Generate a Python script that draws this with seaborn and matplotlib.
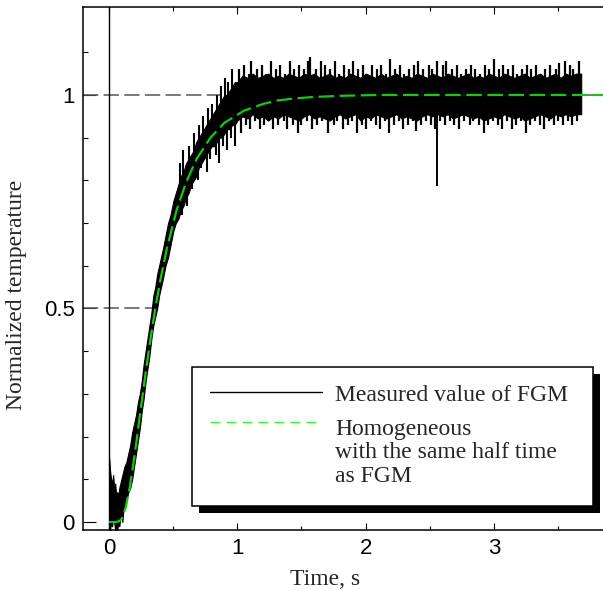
import numpy as np
import matplotlib
matplotlib.use("Agg")
import matplotlib.pyplot as plt
from matplotlib.patches import Rectangle
from matplotlib.lines import Line2D
import seaborn as sns

# ---------------- data ----------------
# homogeneous model curve
model_t = [0.0, 0.05, 0.08, 0.10, 0.13, 0.16, 0.184, 0.21, 0.24, 0.263, 0.29, 0.32,
           0.36, 0.40, 0.45, 0.526, 0.60, 0.68, 0.79, 0.90, 1.05, 1.20, 1.31, 1.45,
           1.58, 1.80, 2.10, 3.87]
model_y = [0.0, 0.0, 0.002, 0.008, 0.034, 0.079, 0.125, 0.18, 0.249, 0.30, 0.36, 0.423,
           0.50, 0.567, 0.64, 0.73, 0.795, 0.849, 0.90, 0.935, 0.963, 0.979, 0.987, 0.992,
           0.995, 0.998, 1.0, 1.0]

# measured FGM signal: core band of the dense noisy trace, rising part
rise_t = [0.000, 0.008, 0.016, 0.024, 0.032, 0.040, 0.048, 0.056, 0.064, 0.072, 0.080,
          0.088, 0.096, 0.104, 0.112, 0.120, 0.135, 0.150, 0.165, 0.180, 0.195, 0.210,
          0.225, 0.240, 0.255, 0.270, 0.285, 0.300, 0.315, 0.330, 0.345, 0.360, 0.375,
          0.390, 0.405, 0.420, 0.440, 0.460, 0.480, 0.500, 0.520, 0.540, 0.560, 0.580,
          0.600, 0.620, 0.640, 0.660, 0.680, 0.700, 0.720, 0.740, 0.760, 0.780, 0.800,
          0.820, 0.840, 0.860, 0.880, 0.900, 0.920, 0.940, 0.960, 0.980, 1.000]
rise_lo = [-0.02, -0.02, 0.00, -0.01, 0.01, 0.00, -0.02, -0.01, -0.02, 0.00, -0.01,
           0.01, 0.02, 0.00, 0.03, 0.04, 0.05, 0.07, 0.08, 0.10, 0.13, 0.16,
           0.19, 0.22, 0.26, 0.29, 0.33, 0.36, 0.39, 0.43, 0.46, 0.48, 0.50,
           0.53, 0.55, 0.57, 0.60, 0.62, 0.65, 0.68, 0.70, 0.71, 0.73, 0.74,
           0.76, 0.77, 0.79, 0.80, 0.81, 0.83, 0.84, 0.85, 0.86, 0.87, 0.88,
           0.88, 0.89, 0.90, 0.90, 0.91, 0.92, 0.92, 0.93, 0.93, 0.94]
rise_hi = [0.15, 0.12, 0.10, 0.09, 0.11, 0.08, 0.09, 0.06, 0.07, 0.06, 0.08,
           0.09, 0.10, 0.11, 0.12, 0.13, 0.14, 0.16, 0.18, 0.21, 0.23, 0.25,
           0.28, 0.30, 0.33, 0.37, 0.40, 0.43, 0.46, 0.49, 0.53, 0.55, 0.58,
           0.60, 0.62, 0.64, 0.67, 0.70, 0.72, 0.75, 0.77, 0.79, 0.81, 0.82,
           0.84, 0.85, 0.86, 0.87, 0.89, 0.90, 0.91, 0.92, 0.93, 0.94, 0.95,
           0.96, 0.97, 0.98, 0.99, 1.00, 1.00, 1.01, 1.02, 1.03, 1.03]

# measured FGM signal: core band, plateau part
plat_t = [1.04, 1.08, 1.12, 1.16, 1.20, 1.24, 1.28, 1.32, 1.36, 1.40,
          1.44, 1.48, 1.52, 1.56, 1.60, 1.64, 1.68, 1.72, 1.76, 1.80,
          1.84, 1.88, 1.92, 1.96, 2.00, 2.04, 2.08, 2.12, 2.16, 2.20,
          2.24, 2.28, 2.32, 2.36, 2.40, 2.44, 2.48, 2.52, 2.56, 2.60,
          2.64, 2.68, 2.72, 2.76, 2.80, 2.84, 2.88, 2.92, 2.96, 3.00,
          3.04, 3.08, 3.12, 3.16, 3.20, 3.24, 3.28, 3.32, 3.36, 3.40,
          3.44, 3.48, 3.52, 3.56, 3.60, 3.64, 3.68]
plat_hi = [1.045, 1.040, 1.050, 1.040, 1.045, 1.050, 1.040, 1.045, 1.040, 1.050,
           1.045, 1.040, 1.050, 1.045, 1.050, 1.040, 1.045, 1.050, 1.040, 1.045,
           1.040, 1.050, 1.045, 1.040, 1.050, 1.045, 1.040, 1.050, 1.040, 1.045,
           1.050, 1.040, 1.045, 1.040, 1.050, 1.045, 1.040, 1.050, 1.045, 1.040,
           1.050, 1.045, 1.040, 1.045, 1.050, 1.040, 1.045, 1.040, 1.050, 1.045,
           1.040, 1.050, 1.045, 1.040, 1.045, 1.050, 1.040, 1.045, 1.050, 1.040,
           1.045, 1.050, 1.040, 1.050, 1.045, 1.050, 1.050]
plat_lo = [0.950, 0.945, 0.955, 0.945, 0.950, 0.940, 0.950, 0.945, 0.955, 0.950,
           0.945, 0.940, 0.950, 0.955, 0.945, 0.950, 0.945, 0.940, 0.950, 0.955,
           0.945, 0.950, 0.955, 0.940, 0.950, 0.945, 0.955, 0.950, 0.945, 0.950,
           0.955, 0.945, 0.950, 0.945, 0.940, 0.950, 0.955, 0.950, 0.955, 0.950,
           0.955, 0.945, 0.950, 0.955, 0.950, 0.945, 0.950, 0.940, 0.945, 0.950,
           0.945, 0.955, 0.950, 0.945, 0.950, 0.940, 0.945, 0.950, 0.955, 0.950,
           0.945, 0.955, 0.950, 0.955, 0.950, 0.955, 0.955]

# noise spikes sticking out of the band during the rise: time, tip, base
rise_spk_t = [0.55, 0.58, 0.62, 0.66, 0.70, 0.73, 0.77, 0.80, 0.84, 0.87, 0.90, 0.93, 0.96,
              0.57, 0.61, 0.65, 0.69, 0.72, 0.76, 0.79, 0.83, 0.86, 0.89, 0.92, 0.95, 0.98]
rise_spk_tip = [0.84, 0.87, 0.88, 0.91, 0.93, 0.95, 0.97, 0.98, 1.00, 1.02, 1.04, 1.03, 1.06,
                0.72, 0.74, 0.78, 0.80, 0.83, 0.82, 0.85, 0.86, 0.84, 0.88, 0.87, 0.90, 0.88]
rise_spk_base = [0.78, 0.80, 0.82, 0.85, 0.87, 0.89, 0.91, 0.92, 0.94, 0.95, 0.97, 0.98, 0.99,
                 0.77, 0.79, 0.82, 0.85, 0.87, 0.89, 0.90, 0.92, 0.93, 0.94, 0.95, 0.96, 0.97]

# noise spikes on the plateau (drawn from the plateau level to the tip)
plateau_level = 1.0
plat_up_t = [1.01, 1.05, 1.09, 1.11, 1.15, 1.19, 1.22, 1.26, 1.30, 1.33, 1.37, 1.41, 1.44,
             1.48, 1.52, 1.55, 1.57, 1.61, 1.65, 1.68, 1.72, 1.76, 1.79, 1.83, 1.87, 1.90,
             1.94, 1.98, 2.01, 2.05, 2.09, 2.12, 2.16, 2.19, 2.23, 2.27, 2.30, 2.34, 2.38,
             2.41, 2.45, 2.49, 2.52, 2.56, 2.60, 2.63, 2.67, 2.71, 2.74, 2.78, 2.82, 2.85,
             2.89, 2.93, 2.96, 3.00, 3.04, 3.07, 3.11, 3.15, 3.18, 3.22, 3.26, 3.29, 3.33,
             3.37, 3.40, 3.44, 3.48, 3.51, 3.55, 3.59, 3.62, 3.66]
plat_up_tip = [1.06, 1.07, 1.05, 1.08, 1.06, 1.07, 1.05, 1.08, 1.06, 1.07, 1.05, 1.08, 1.06,
               1.07, 1.06, 1.08, 1.09, 1.06, 1.08, 1.07, 1.06, 1.08, 1.05, 1.07, 1.06, 1.08,
               1.06, 1.07, 1.05, 1.07, 1.06, 1.07, 1.05, 1.085, 1.06, 1.07, 1.05, 1.06, 1.07,
               1.08, 1.06, 1.07, 1.06, 1.08, 1.07, 1.08, 1.06, 1.07, 1.05, 1.06, 1.07, 1.06,
               1.05, 1.07, 1.06, 1.085, 1.06, 1.07, 1.06, 1.07, 1.05, 1.06, 1.07, 1.06, 1.07,
               1.05, 1.06, 1.07, 1.06, 1.075, 1.08, 1.07, 1.06, 1.08]
plat_dn_t = [1.03, 1.07, 1.10, 1.14, 1.18, 1.21, 1.25, 1.28, 1.32, 1.36, 1.39, 1.43, 1.47,
             1.50, 1.54, 1.58, 1.62, 1.66, 1.71, 1.75, 1.78, 1.82, 1.86, 1.89, 1.93, 1.97,
             2.00, 2.04, 2.08, 2.11, 2.15, 2.18, 2.22, 2.26, 2.29, 2.33, 2.37, 2.39, 2.43,
             2.47, 2.51, 2.54, 2.58, 2.62, 2.66, 2.69, 2.73, 2.77, 2.81, 2.84, 2.88, 2.92,
             2.95, 2.99, 3.03, 3.06, 3.10, 3.14, 3.17, 3.21, 3.25, 3.28, 3.32, 3.36, 3.39,
             3.43, 3.47, 3.50, 3.54, 3.58, 3.61, 3.65]
plat_dn_tip = [0.91, 0.93, 0.92, 0.94, 0.92, 0.93, 0.94, 0.92, 0.93, 0.94, 0.92, 0.93, 0.91,
               0.93, 0.94, 0.92, 0.93, 0.94, 0.91, 0.93, 0.94, 0.92, 0.93, 0.94, 0.91, 0.93,
               0.92, 0.94, 0.93, 0.92, 0.94, 0.91, 0.93, 0.94, 0.92, 0.93, 0.94, 0.915, 0.93,
               0.94, 0.93, 0.92, 0.94, 0.93, 0.94, 0.93, 0.92, 0.94, 0.93, 0.94, 0.93, 0.91,
               0.93, 0.94, 0.93, 0.92, 0.94, 0.92, 0.93, 0.94, 0.91, 0.93, 0.94, 0.93, 0.92,
               0.94, 0.93, 0.94, 0.93, 0.94, 0.93, 0.94]

# single downward glitch in the measured trace
glitch_t = [2.556]
glitch_tip = [0.787]

flash_t = 0.0          # flash instant (vertical line)
half_time = 0.34       # where the 0.5 marker meets the curve
ref_levels = [0.5, 1.0]

x_ticks = [0, 1, 2, 3]
x_ticklabels = ["0", "1", "2", "3"]
x_minor = [0.5, 1.5, 2.5, 3.5]
y_ticks = [0, 0.5, 1]
y_ticklabels = ["0", "0.5", "1"]
y_minor = [0.1, 0.2, 0.3, 0.4, 0.6, 0.7, 0.8, 0.9, 1.1]

legend_labels = ["Measured value of FGM",
                 ["Homogeneous", "with the same half time", "as FGM"]]
xlabel = "Time, s"
ylabel = "Normalized temperature"

# ---------------- style ----------------
sns.set_style("ticks")
plt.rcParams["font.family"] = ["Liberation Sans", "DejaVu Sans"]
SERIF = ["Liberation Serif", "DejaVu Serif"]

GREEN = "#14c814"
GREEN_LEG = "#3cee3c"
GRAY = "#555555"

fig = plt.figure(figsize=(6.03, 5.90), dpi=100)
ax = fig.add_axes([83 / 603, 60 / 590, 520 / 603, 523 / 590])

ax.set_xlim(-0.203, 3.85)
ax.set_ylim(-0.0187, 1.206)

# reference lines
ax.axhline(ref_levels[1], color=GRAY, lw=1.1, dashes=(10, 3.5), zorder=1)
ax.hlines(ref_levels[0], -0.203, half_time, color=GRAY, lw=1.1,
          linestyles=[(0, (10, 3.5))], zorder=1)
ax.axvline(flash_t, color="black", lw=1.0, zorder=2)

# measured trace: dense noise band + spikes
meas_t = np.array(rise_t + plat_t)
meas_lo = np.array(rise_lo + plat_lo)
meas_hi = np.array(rise_hi + plat_hi)
ax.fill_between(meas_t, meas_lo, meas_hi, facecolor="black", edgecolor="black",
                lw=0.8, zorder=2)
ax.vlines(rise_spk_t, rise_spk_base, rise_spk_tip, color="black", lw=1.5, zorder=2)
ax.vlines(plat_up_t, plateau_level, plat_up_tip, color="black", lw=1.6, zorder=2)
ax.vlines(plat_dn_t, plat_dn_tip, plateau_level, color="black", lw=1.6, zorder=2)
ax.vlines(glitch_t, glitch_tip, plateau_level, color="black", lw=1.4, zorder=2)

# homogeneous model
sns.lineplot(x=model_t, y=model_y, ax=ax, color=GREEN, lw=1.6,
             linestyle=(0, (7, 2.5)), zorder=3)

# axes styling
for s in ["left", "bottom", "top"]:
    ax.spines[s].set_linewidth(1.1)
    ax.spines[s].set_color("black")
ax.spines["right"].set_visible(False)

ax.set_xticks(x_ticks)
ax.set_xticklabels(x_ticklabels)
ax.set_xticks(x_minor, minor=True)
ax.set_yticks(y_ticks)
ax.set_yticklabels(y_ticklabels)
ax.set_yticks(y_minor, minor=True)
ax.tick_params(axis="both", which="both", direction="in", colors="black",
               width=0.8, labelsize=16)
ax.tick_params(axis="x", which="major", length=5, top=True, pad=6)
ax.tick_params(axis="x", which="minor", length=3, top=True)
ax.tick_params(axis="y", which="major", length=9, right=False, pad=6)
ax.tick_params(axis="y", which="minor", length=3.5, right=False)

ax.set_xlabel(xlabel, family=SERIF, fontsize=17)
ax.set_ylabel(ylabel, family=SERIF, fontsize=17)
ax.xaxis.set_label_coords(0.465, -0.075)
ax.yaxis.set_label_coords(-0.107, 0.45)

# legend box with black drop shadow
bx0, bx1 = 0.2096, 0.981
by0, by1 = 0.0459, 0.3117
dx, dy = 0.0135, 0.0134
ax.add_patch(Rectangle((bx0 + dx, by0 - dy), bx1 - bx0, by1 - by0,
                       transform=ax.transAxes, facecolor="black", edgecolor="none",
                       zorder=5, clip_on=False))
ax.add_patch(Rectangle((bx0, by0), bx1 - bx0, by1 - by0, transform=ax.transAxes,
                       facecolor="white", edgecolor="black", lw=1.1, zorder=6,
                       clip_on=False))
ax.add_line(Line2D([0.244, 0.46], [0.264, 0.264], transform=ax.transAxes,
                   color="black", lw=1.0, zorder=7))
ax.add_line(Line2D([0.244, 0.46], [0.2065, 0.2065], transform=ax.transAxes,
                   color=GREEN_LEG, lw=1.0, linestyle=(0, (7.2, 4.3)), zorder=7))
ax.text(0.485, 0.2467, legend_labels[0], transform=ax.transAxes, family=SERIF,
        fontsize=17, va="baseline", ha="left", zorder=8)
for txt, yb in zip(legend_labels[1], [0.1816, 0.1377, 0.0918]):
    ax.text(0.485, yb, txt, transform=ax.transAxes, family=SERIF,
            fontsize=17, va="baseline", ha="left", zorder=8)

fig.savefig("out.png", dpi=100)
